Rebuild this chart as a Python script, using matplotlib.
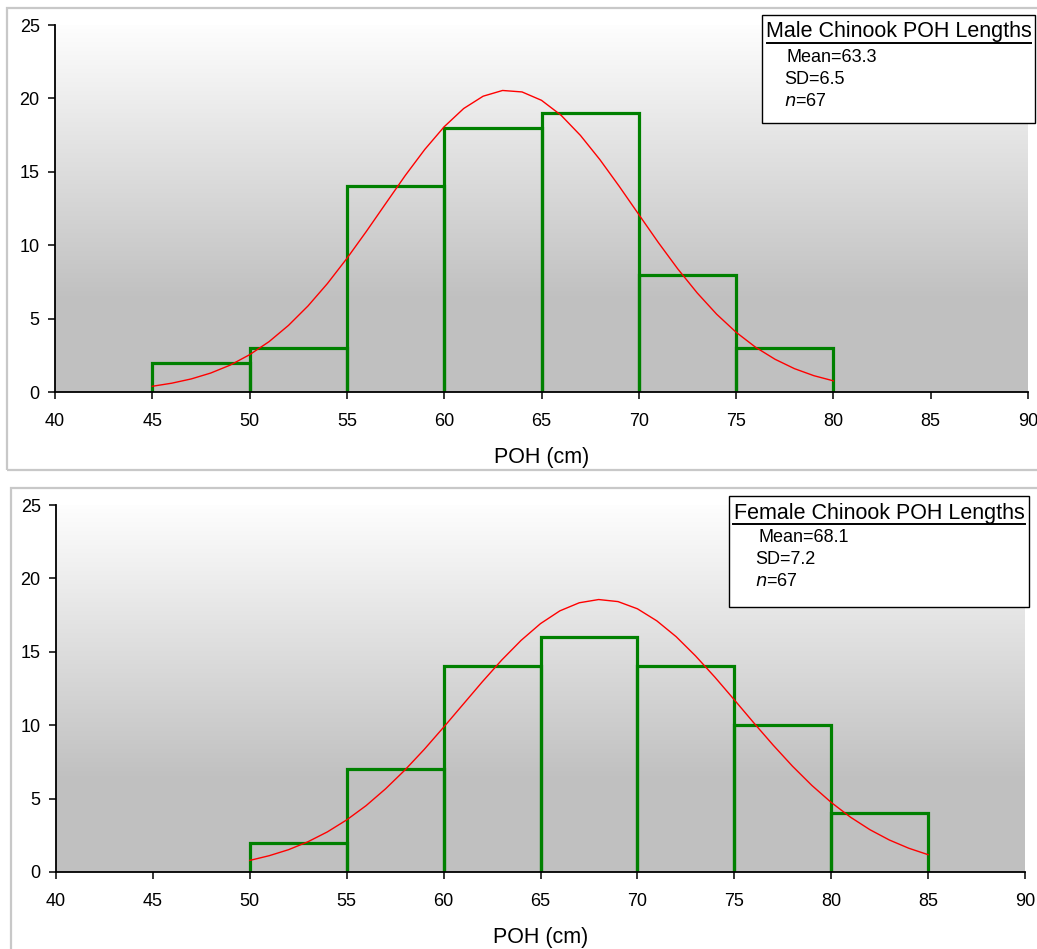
import matplotlib.pyplot as plt
from matplotlib.patches import Rectangle
import numpy as np

plt.rcParams['font.family'] = ['Liberation Sans', 'DejaVu Sans']

# histogram bins (left edges) and counts
male_edges = [45, 50, 55, 60, 65, 70, 75]
male_counts = [2, 3, 14, 18, 19, 8, 3]
female_edges = [50, 55, 60, 65, 70, 75, 80]
female_counts = [2, 7, 14, 16, 14, 10, 4]
bin_width = 5

# fitted normal curve, read at 1 cm steps
male_curve_x = list(range(45, 81))
male_curve_y = [0.39, 0.60, 0.89, 1.29, 1.83, 2.54, 3.43, 4.54, 5.86, 7.39,
                9.10, 10.94, 12.85, 14.75, 16.52, 18.07, 19.31, 20.15, 20.54, 20.44,
                19.87, 18.86, 17.48, 15.83, 14.00, 12.09, 10.19, 8.39, 6.75, 5.30,
                4.07, 3.05, 2.23, 1.59, 1.11, 0.76]
female_curve_x = list(range(50, 86))
female_curve_y = [0.79, 1.11, 1.52, 2.06, 2.73, 3.55, 4.52, 5.66, 6.94, 8.35,
                  9.86, 11.41, 12.96, 14.44, 15.78, 16.92, 17.79, 18.34, 18.56, 18.42,
                  17.93, 17.11, 16.03, 14.72, 13.27, 11.73, 10.17, 8.65, 7.21, 5.90,
                  4.74, 3.73, 2.88, 2.18, 1.62, 1.18]

male_title = "Male Chinook POH Lengths"
male_stats = ["Mean=63.3", "SD=6.5", r"$\it{n}$=67"]
female_title = "Female Chinook POH Lengths"
female_stats = ["Mean=68.1", "SD=7.2", r"$\it{n}$=67"]

W, H = 1037, 949
fig = plt.figure(figsize=(W / 100, H / 100), dpi=100)


def fx(px):
    return px / W


def fy(py):
    return 1 - py / H


# panel frames
for (x0, y0, x1, y1) in [(7, 8, 1045, 470), (11, 488, 1045, 955)]:
    fig.patches.append(Rectangle((fx(x0), fy(y1)), (x1 - x0) / W, (y1 - y0) / H,
                                 transform=fig.transFigure, fill=False,
                                 edgecolor='#c8c8c8', linewidth=1.6))

# background gradient: white on top, grey further down
g = np.linspace(0, 1, 256)
shade = np.clip(g / 0.75, 0, 1)
top_c = np.array([0.995, 0.995, 0.995])
bot_c = np.array([0.753, 0.753, 0.753])
grad = top_c[None, :] * (1 - shade[:, None]) + bot_c[None, :] * shade[:, None]
grad = np.repeat(grad[:, None, :], 2, axis=1)


def panel(rect, edges, counts, cx, cy, title, stats, box, sx, tw):
    ax = fig.add_axes(rect)
    ax.imshow(grad, extent=[40, 90, 0, 25], origin='upper', aspect='auto', zorder=0)
    # open-bottom bar outlines
    for x0, c in zip(edges, counts):
        ax.plot([x0, x0, x0 + bin_width, x0 + bin_width], [0, c, c, 0],
                color='#008000', linewidth=2.3, solid_joinstyle='miter', zorder=2)
    ax.plot(cx, cy, color='red', linewidth=1.0, zorder=3)
    ax.set_xlim(40, 90)
    ax.set_ylim(0, 25)
    ax.set_xticks(range(40, 91, 5))
    ax.set_yticks(range(0, 26, 5))
    ax.spines['top'].set_visible(False)
    ax.spines['right'].set_visible(False)
    for s in ('left', 'bottom'):
        ax.spines[s].set_linewidth(1.3)
        ax.spines[s].set_zorder(4)
    ax.tick_params(direction='out', length=5, width=1.1, labelsize=13)
    ax.tick_params(axis='x', pad=10)
    ax.tick_params(axis='y', pad=6)
    ax.set_xlabel("POH (cm)", fontsize=15.5, labelpad=12)
    # stats box
    bx0, by0, bx1, by1 = box
    fig.patches.append(Rectangle((fx(bx0), fy(by1)), (bx1 - bx0) / W, (by1 - by0) / H,
                                 transform=fig.transFigure, facecolor='white',
                                 edgecolor='black', linewidth=1))
    fig.text(fx((bx0 + bx1) / 2), fy(by0 + 17), title, ha='center', va='center',
             fontsize=15.5)
    fig.lines.append(plt.Line2D([fx((bx0 + bx1) / 2 - tw / 2), fx((bx0 + bx1) / 2 + tw / 2)],
                                [fy(by0 + 28)] * 2, transform=fig.transFigure,
                                color='black', linewidth=1.4))
    fig.text(fx(bx0 + sx), fy(by0 + 42), stats[0], va='center', fontsize=13)
    fig.text(fx(bx0 + sx - 3), fy(by0 + 64), stats[1], va='center', fontsize=13)
    fig.text(fx(bx0 + sx - 3), fy(by0 + 86), stats[2], va='center', fontsize=13)
    return ax


panel([fx(55), fy(392), 973 / W, 367 / H], male_edges, male_counts,
      male_curve_x, male_curve_y, male_title, male_stats, (762, 15, 1035, 123), 25, 264)
panel([fx(56), fy(872), 969 / W, 367 / H], female_edges, female_counts,
      female_curve_x, female_curve_y, female_title, female_stats, (729, 496, 1029, 607), 29, 292)

fig.savefig("out.png", dpi=100)
